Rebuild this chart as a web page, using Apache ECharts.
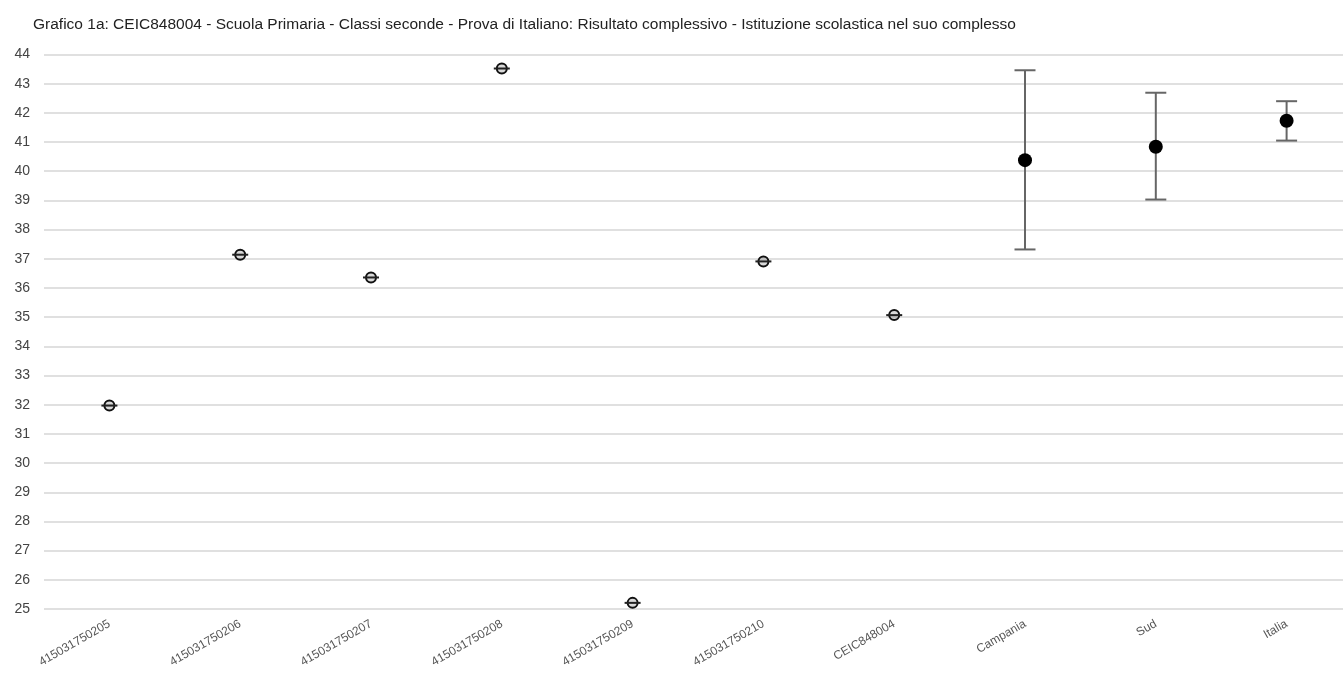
<!DOCTYPE html>
<html>
<head>
<meta charset="utf-8">
<script src="https://cdn.jsdelivr.net/npm/echarts@6/dist/echarts.min.js"></script>
<style>
html,body{margin:0;padding:0;background:#fff;overflow:hidden;width:1343px;height:682px;}
#chart{width:1352px;height:682px;}
</style>
</head>
<body>
<div id="chart"></div>
<script>
var titleText = 'Grafico 1a: CEIC848004 - Scuola Primaria - Classi seconde - Prova di Italiano: Risultato complessivo - Istituzione scolastica nel suo complesso';
var categories = ['415031750205','415031750206','415031750207','415031750208','415031750209','415031750210','CEIC848004','Campania','Sud','Italia'];
var values = [31.97, 37.14, 36.36, 43.52, 25.21, 36.91, 35.07, 40.38, 40.84, 41.73];
var errLow = [null, null, null, null, null, null, null, 37.32, 39.03, 41.05];
var errHigh = [null, null, null, null, null, null, null, 43.46, 42.69, 42.40];
var yMin = 25, yMax = 44, yStep = 1;

var data = categories.map(function(c, i){
  var lo = errLow[i] == null ? values[i] : errLow[i];
  var hi = errHigh[i] == null ? values[i] : errHigh[i];
  return [i, values[i], lo, hi, errLow[i] == null ? 0 : 1];
});

var chart = echarts.init(document.getElementById('chart'));
chart.setOption({
  animation: false,
  backgroundColor: '#ffffff',
  title: {
    text: titleText,
    left: 28, top: 12,
    textStyle: {fontFamily: 'Liberation Sans, Arial', fontSize: 15.5, fontWeight: 'normal', color: '#222'}
  },
  grid: {left: 44, top: 54.5, right: 0, height: 554.5, containLabel: false},
  xAxis: {
    type: 'category',
    data: categories,
    boundaryGap: true,
    axisLine: {show: false},
    axisTick: {show: false},
    splitLine: {show: false},
    axisLabel: {rotate: 30, margin: 14, color: '#555', fontSize: 12, fontFamily: 'Liberation Sans, Arial', interval: 0}
  },
  yAxis: {
    type: 'value',
    min: yMin, max: yMax, interval: yStep,
    axisLine: {show: false},
    axisTick: {show: false},
    axisLabel: {color: '#444', fontSize: 14, fontFamily: 'Liberation Sans, Arial', margin: 14},
    splitLine: {lineStyle: {color: '#d6d6d6', width: 1.5}}
  },
  series: [{
    type: 'custom',
    data: data,
    encode: {x: 0, y: [1, 2, 3]},
    renderItem: function(params, api){
      var x = api.value(0);
      var pv = api.coord([x, api.value(1)]);
      var plo = api.coord([x, api.value(2)]);
      var phi = api.coord([x, api.value(3)]);
      var isRegion = api.value(4) === 1;
      var cap = isRegion ? 10.5 : 8;
      var children = [];
      if (isRegion) {
        children.push({type: 'line', shape: {x1: pv[0], y1: phi[1], x2: pv[0], y2: plo[1]}, style: {stroke: '#666', lineWidth: 2}});
        children.push({type: 'line', shape: {x1: pv[0]-cap, y1: phi[1], x2: pv[0]+cap, y2: phi[1]}, style: {stroke: '#666', lineWidth: 2}});
        children.push({type: 'line', shape: {x1: pv[0]-cap, y1: plo[1], x2: pv[0]+cap, y2: plo[1]}, style: {stroke: '#666', lineWidth: 2}});
        children.push({type: 'circle', shape: {cx: pv[0], cy: pv[1], r: 7}, style: {fill: '#000', stroke: null}});
      } else {
        children.push({type: 'circle', shape: {cx: pv[0], cy: pv[1], r: 5}, style: {fill: 'rgba(0,0,0,0.15)', stroke: '#111', lineWidth: 2}});
        children.push({type: 'line', shape: {x1: pv[0]-cap, y1: plo[1], x2: pv[0]+cap, y2: phi[1]}, style: {stroke: '#222', lineWidth: 2}});
      }
      return {type: 'group', children: children};
    }
  }]
});
</script>
</body>
</html>
